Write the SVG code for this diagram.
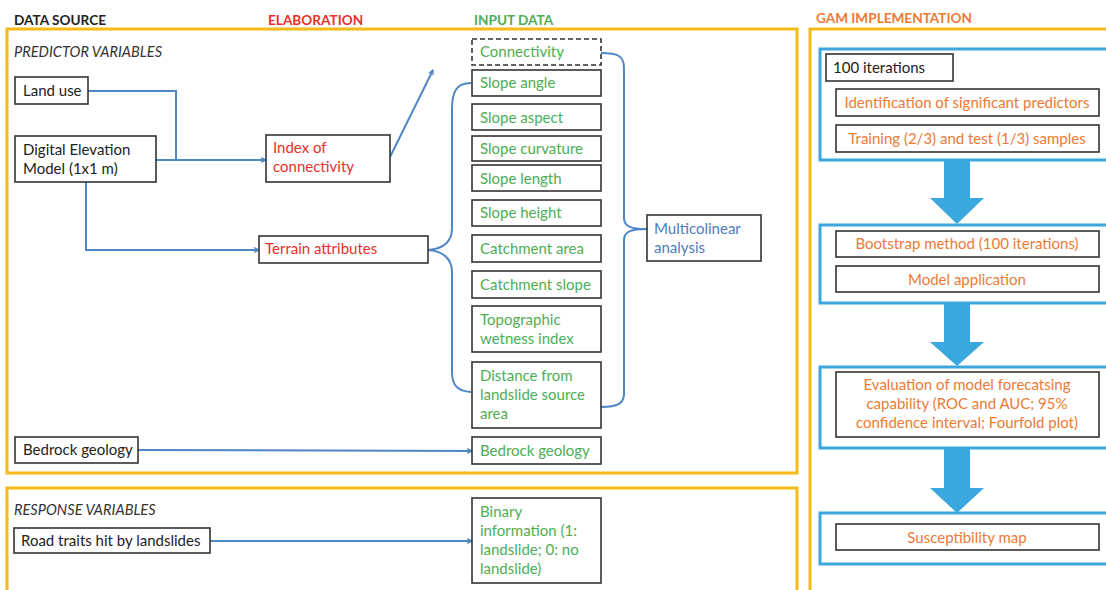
<svg xmlns="http://www.w3.org/2000/svg" width="1106" height="590" viewBox="0 0 1106 590">
<defs>
<style>
text{font-family:Lato,"Open Sans","Liberation Sans",sans-serif;font-size:15px}
.title{font-weight:bold;font-size:13.6px}
.sec{font-style:italic;font-size:14.6px;fill:#333}
.blk{fill:#222}
.red{fill:#E8302C}
.grn{fill:#4DAE55}
.org{fill:#EC7A36}
.blu{fill:#4A7EBB}
.frame{fill:none;stroke:#F5B918;stroke-width:3}
.box{fill:#fff;stroke:#333;stroke-width:1.6}
.dash{fill:#fff;stroke:#333;stroke-width:1.6;stroke-dasharray:5 3}
.gbox{fill:none;stroke:#3AA8DF;stroke-width:3}
.con{fill:none;stroke:#4F87C6;stroke-width:2}
.barrow{fill:#3AA8DF}
.mid{text-anchor:middle}
</style>
<marker id="ah" viewBox="0 0 10 10" refX="9" refY="5" markerWidth="6" markerHeight="6" markerUnits="userSpaceOnUse" orient="auto">
<path d="M1,1 L9,5 L1,9" fill="none" stroke="#4F87C6" stroke-width="2"/>
</marker>
</defs>
<rect width="1106" height="590" fill="#fff"/>

<!-- frames -->
<rect class="frame" x="7" y="29" width="790" height="444"/>
<rect class="frame" x="7" y="488" width="790" height="120"/>
<rect class="frame" x="810" y="29" width="320" height="600"/>

<!-- titles -->
<text class="title blk" x="14" y="25">DATA SOURCE</text>
<text class="title red" x="268" y="25">ELABORATION</text>
<text class="title grn" x="474" y="25">INPUT DATA</text>
<text class="title org" x="816" y="23">GAM IMPLEMENTATION</text>
<text class="sec" x="14" y="57">PREDICTOR VARIABLES</text>
<text class="sec" x="14" y="515">RESPONSE VARIABLES</text>

<!-- connectors -->
<g id="connectors">
<path class="con" d="M88,91 L176,91 L176,160"/>
<path class="con" d="M156,160 L266,160" marker-end="url(#ah)"/>
<path class="con" d="M86,182 L86,250 L259,250" marker-end="url(#ah)"/>
<path class="con" d="M390,157 L433,70" marker-end="url(#ah)"/>
<path class="con" d="M471,83 C456,83 452,92 452,110 L452,228 C452,243 442,249 428,250 C442,251 452,258 452,272 L452,372 C452,386 458,391 471,392"/>
<path class="con" d="M601,53 C618,53 624,56 624,68 L624,218 C624,227 632,229 647,229"/>
<path class="con" d="M601,407 C618,407 624,403 624,394 L624,240 C624,231 632,229 647,229"/>
<path class="con" d="M138,450 L472,451" marker-end="url(#ah)"/>
<path class="con" d="M210,541 L472,541" marker-end="url(#ah)"/>
<path class="barrow" d="M944,160 L970,160 L970,198 L984,198 L957,224 L930,198 L944,198 Z"/>
<path class="barrow" d="M944,303 L970,303 L970,342 L984,342 L957,366 L930,342 L944,342 Z"/>
<path class="barrow" d="M944,448 L970,448 L970,488 L984,488 L957,513 L930,488 L944,488 Z"/>
</g>

<!-- data source -->
<g id="land-use"><rect class="box" x="15" y="77" width="73" height="27"/><text class="blk" x="23" y="96">Land use</text></g>
<g id="dem"><rect class="box" x="15" y="136" width="141" height="46"/><text class="blk" x="23" y="155">Digital Elevation</text><text class="blk" x="23" y="174">Model (1x1 m)</text></g>
<g id="bedrock-src"><rect class="box" x="15" y="437" width="123" height="26"/><text class="blk" x="23" y="455">Bedrock geology</text></g>
<g id="road"><rect class="box" x="14" y="528" width="196" height="25"/><text class="blk" x="21" y="546">Road traits hit by landslides</text></g>

<!-- elaboration -->
<g id="index-conn"><rect class="box" x="266" y="135" width="124" height="47"/><text class="red" x="273" y="153">Index of</text><text class="red" x="273" y="172">connectivity</text></g>
<g id="terrain"><rect class="box" x="259" y="236" width="169" height="27"/><text class="red" x="265" y="254">Terrain attributes</text></g>

<!-- input data -->
<g id="connectivity"><rect class="dash" x="472" y="39" width="129" height="26"/><text class="grn" x="480" y="57">Connectivity</text></g>
<g id="slope-angle"><rect class="box" x="472" y="70" width="129" height="26"/><text class="grn" x="480" y="88">Slope angle</text></g>
<g id="slope-aspect"><rect class="box" x="472" y="104" width="129" height="26"/><text class="grn" x="480" y="123">Slope aspect</text></g>
<g id="slope-curvature"><rect class="box" x="472" y="136" width="129" height="25"/><text class="grn" x="480" y="154">Slope curvature</text></g>
<g id="slope-length"><rect class="box" x="472" y="165" width="129" height="26"/><text class="grn" x="480" y="184">Slope length</text></g>
<g id="slope-height"><rect class="box" x="472" y="200" width="129" height="26"/><text class="grn" x="480" y="218">Slope height</text></g>
<g id="catchment-area"><rect class="box" x="472" y="235" width="129" height="27"/><text class="grn" x="480" y="254">Catchment area</text></g>
<g id="catchment-slope"><rect class="box" x="472" y="271" width="129" height="27"/><text class="grn" x="480" y="290">Catchment slope</text></g>
<g id="twi"><rect class="box" x="472" y="306" width="129" height="46"/><text class="grn" x="480" y="325">Topographic</text><text class="grn" x="480" y="344">wetness index</text></g>
<g id="distance"><rect class="box" x="472" y="362" width="129" height="66"/><text class="grn" x="480" y="381">Distance from</text><text class="grn" x="480" y="400">landslide source</text><text class="grn" x="480" y="419">area</text></g>
<g id="bedrock-in"><rect class="box" x="472" y="437" width="129" height="27"/><text class="grn" x="480" y="456">Bedrock geology</text></g>
<g id="binary"><rect class="box" x="472" y="498" width="129" height="85"/><text class="grn" x="480" y="517">Binary</text><text class="grn" x="480" y="536">information (1:</text><text class="grn" x="480" y="555">landslide; 0: no</text><text class="grn" x="480" y="574">landslide)</text></g>
<g id="multicolinear"><rect class="box" x="647" y="215" width="114" height="46"/><text class="blu" x="654" y="234">Multicolinear</text><text class="blu" x="654" y="253">analysis</text></g>

<!-- GAM -->
<g id="gam1"><rect class="gbox" x="820" y="49" width="300" height="111"/>
<rect class="box" x="826" y="54" width="127" height="27"/><text class="blk" x="833" y="73">100 iterations</text>
<rect class="box" x="836" y="89" width="263" height="27"/><text class="org mid" x="967" y="108">Identification of significant predictors</text>
<rect class="box" x="836" y="125" width="263" height="27"/><text class="org mid" x="967" y="144">Training (2/3) and test (1/3) samples</text></g>
<g id="gam2"><rect class="gbox" x="820" y="225" width="300" height="78"/>
<rect class="box" x="836" y="231" width="263" height="26"/><text class="org mid" x="967" y="249">Bootstrap method (100 iterations)</text>
<rect class="box" x="836" y="266" width="263" height="26"/><text class="org mid" x="967" y="285">Model application</text></g>
<g id="gam3"><rect class="gbox" x="820" y="367" width="300" height="81"/>
<rect class="box" x="836" y="372" width="263" height="65"/><text class="org mid" x="967" y="390">Evaluation of model forecatsing</text><text class="org mid" x="967" y="409">capability (ROC and AUC; 95%</text><text class="org mid" x="967" y="428">confidence interval; Fourfold plot)</text></g>
<g id="gam4"><rect class="gbox" x="820" y="513" width="300" height="51"/>
<rect class="box" x="836" y="524" width="263" height="26"/><text class="org mid" x="967" y="543">Susceptibility map</text></g>
</svg>
